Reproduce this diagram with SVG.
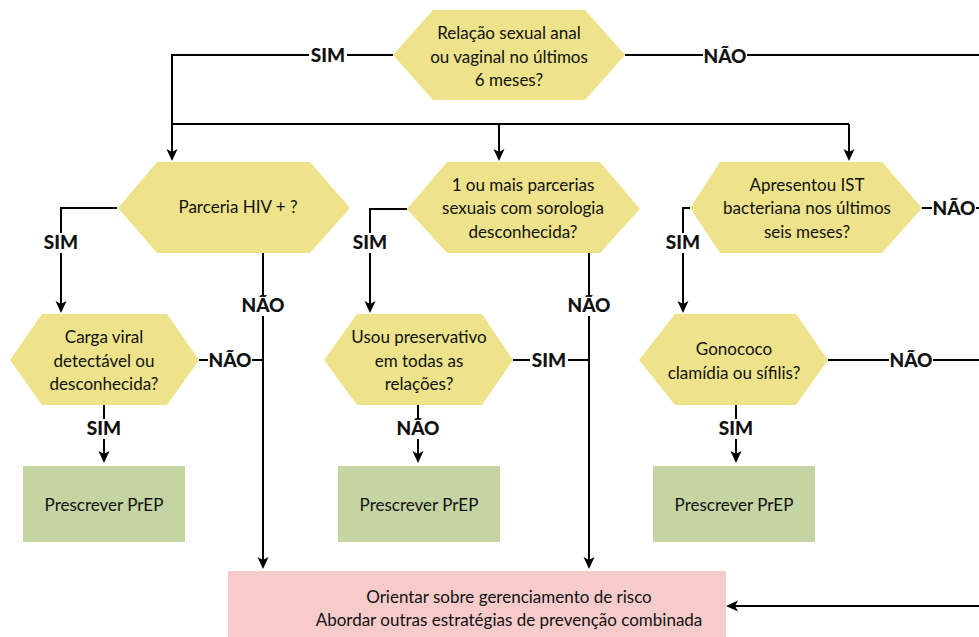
<svg xmlns="http://www.w3.org/2000/svg" width="979" height="637" viewBox="0 0 979 637">
<defs>
<marker id="arr" markerUnits="userSpaceOnUse" markerWidth="14" markerHeight="12" refX="4" refY="6" orient="auto">
<path d="M0,0.5 L12,6 L0,11.5 L3,6 Z" fill="#000"/>
</marker>
<style>
.hex{fill:#EEE38A;}
.grn{fill:#C4D5A3;}
.pnk{fill:#F8CBCB;}
.t{font-family:Lato,"Liberation Sans",sans-serif;font-size:17px;fill:#111;text-anchor:middle;}
.lbl{font-family:Lato,"Liberation Sans",sans-serif;font-size:19px;font-weight:900;fill:#111;text-anchor:middle;}
.bg{fill:#fff;}
.ln{fill:none;stroke:#000;stroke-width:2;}
.ar{marker-end:url(#arr);}
</style>
</defs>
<rect width="979" height="637" fill="#fff"/>

<g id="connectors">
<path class="ln ar" d="M393,55 H172 V153"/>
<path class="ln" d="M172,124 H849"/>
<path class="ln ar" d="M499,124 V153"/>
<path class="ln ar" d="M849,124 V153"/>
<path class="ln" d="M625,55 H979"/>
<path class="ln ar" d="M117,208 H61 V305"/>
<path class="ln ar" d="M263,253 V561"/>
<path class="ln" d="M199,360 H263"/>
<path class="ln ar" d="M104,405 V455"/>
<path class="ln ar" d="M407,209 H370 V305"/>
<path class="ln ar" d="M589,253 V561"/>
<path class="ln" d="M513,360 H589"/>
<path class="ln ar" d="M418,405 V455"/>
<path class="ln ar" d="M690,208 H683 V305"/>
<path class="ln" d="M922,208 H979"/>
<path class="ln" d="M828,360 H979"/>
<path class="ln ar" d="M736,405 V455"/>
<path class="ln ar" d="M979,606 H734"/>
<rect class="bg" x="309" y="46" width="38" height="20"/>
<rect class="bg" x="703" y="46" width="44" height="20"/>
<rect class="bg" x="42" y="233" width="38" height="20"/>
<rect class="bg" x="241" y="296" width="44" height="20"/>
<rect class="bg" x="208" y="351" width="44" height="20"/>
<rect class="bg" x="85" y="419" width="38" height="20"/>
<rect class="bg" x="351" y="233" width="38" height="20"/>
<rect class="bg" x="567" y="296" width="44" height="20"/>
<rect class="bg" x="530" y="351" width="38" height="20"/>
<rect class="bg" x="396" y="419" width="44" height="20"/>
<rect class="bg" x="664" y="233" width="38" height="20"/>
<rect class="bg" x="932" y="199" width="44" height="20"/>
<rect class="bg" x="889" y="351" width="44" height="20"/>
<rect class="bg" x="717" y="419" width="38" height="20"/>
<text class="lbl" x="328" y="62">SIM</text>
<text class="lbl" x="725" y="63">NÃO</text>
<text class="lbl" x="61" y="249">SIM</text>
<text class="lbl" x="263" y="312">NÃO</text>
<text class="lbl" x="230" y="367">NÃO</text>
<text class="lbl" x="104" y="435">SIM</text>
<text class="lbl" x="370" y="249">SIM</text>
<text class="lbl" x="589" y="312">NÃO</text>
<text class="lbl" x="549" y="367">SIM</text>
<text class="lbl" x="418" y="435">NÃO</text>
<text class="lbl" x="683" y="249">SIM</text>
<text class="lbl" x="954" y="215">NÃO</text>
<text class="lbl" x="911" y="367">NÃO</text>
<text class="lbl" x="736" y="435">SIM</text>
</g>

<g id="q1">
<polygon class="hex" points="393,55 433,10 585,10 625,55 585,100 433,100"/>
<text class="t" x="509" y="39">Relação sexual anal</text>
<text class="t" x="509" y="62.5">ou vaginal no últimos</text>
<text class="t" x="509" y="86">6 meses?</text>
</g>

<g id="q2">
<polygon class="hex" points="118,208 157,162 310,162 350,208 310,253 157,253"/>
<text class="t" x="238" y="213">Parceria HIV + ?</text>
</g>

<g id="q3">
<polygon class="hex" points="407,209 447,162 600,162 640,209 600,253 447,253"/>
<text class="t" x="523" y="191">1 ou mais parcerias</text>
<text class="t" x="523" y="214">sexuais com sorologia</text>
<text class="t" x="523" y="238">desconhecida?</text>
</g>

<g id="q4">
<polygon class="hex" points="690,208 720,162 882,162 922,208 882,253 720,253"/>
<text class="t" x="807" y="191">Apresentou IST</text>
<text class="t" x="807" y="214">bacteriana nos últimos</text>
<text class="t" x="807" y="238">seis meses?</text>
</g>

<g id="q5">
<polygon class="hex" points="10,360 42,314 167,314 199,360 167,405 42,405"/>
<text class="t" x="104" y="343">Carga viral</text>
<text class="t" x="104" y="367">detectável ou</text>
<text class="t" x="104" y="390">desconhecida?</text>
</g>

<g id="q6">
<polygon class="hex" points="324,360 357,314 482,314 513,360 482,405 357,405"/>
<text class="t" x="419" y="343">Usou preservativo</text>
<text class="t" x="419" y="367">em todas as</text>
<text class="t" x="419" y="390">relações?</text>
</g>

<g id="q7">
<polygon class="hex" points="639,360 675,314 796,314 828,360 796,405 675,405"/>
<text class="t" x="734" y="355">Gonococo</text>
<text class="t" x="734" y="379">clamídia ou sífilis?</text>
</g>

<g id="prep1">
<rect class="grn" x="23" y="466" width="162" height="76"/>
<text class="t" x="104" y="511">Prescrever PrEP</text>
</g>
<g id="prep2">
<rect class="grn" x="338" y="466" width="162" height="76"/>
<text class="t" x="419" y="511">Prescrever PrEP</text>
</g>
<g id="prep3">
<rect class="grn" x="653" y="466" width="162" height="76"/>
<text class="t" x="734" y="511">Prescrever PrEP</text>
</g>

<g id="orient">
<rect class="pnk" x="228" y="571" width="498" height="66"/>
<text class="t" x="509" y="603">Orientar sobre gerenciamento de risco</text>
<text class="t" x="509" y="626">Abordar outras estratégias de prevenção combinada</text>
</g>
</svg>
